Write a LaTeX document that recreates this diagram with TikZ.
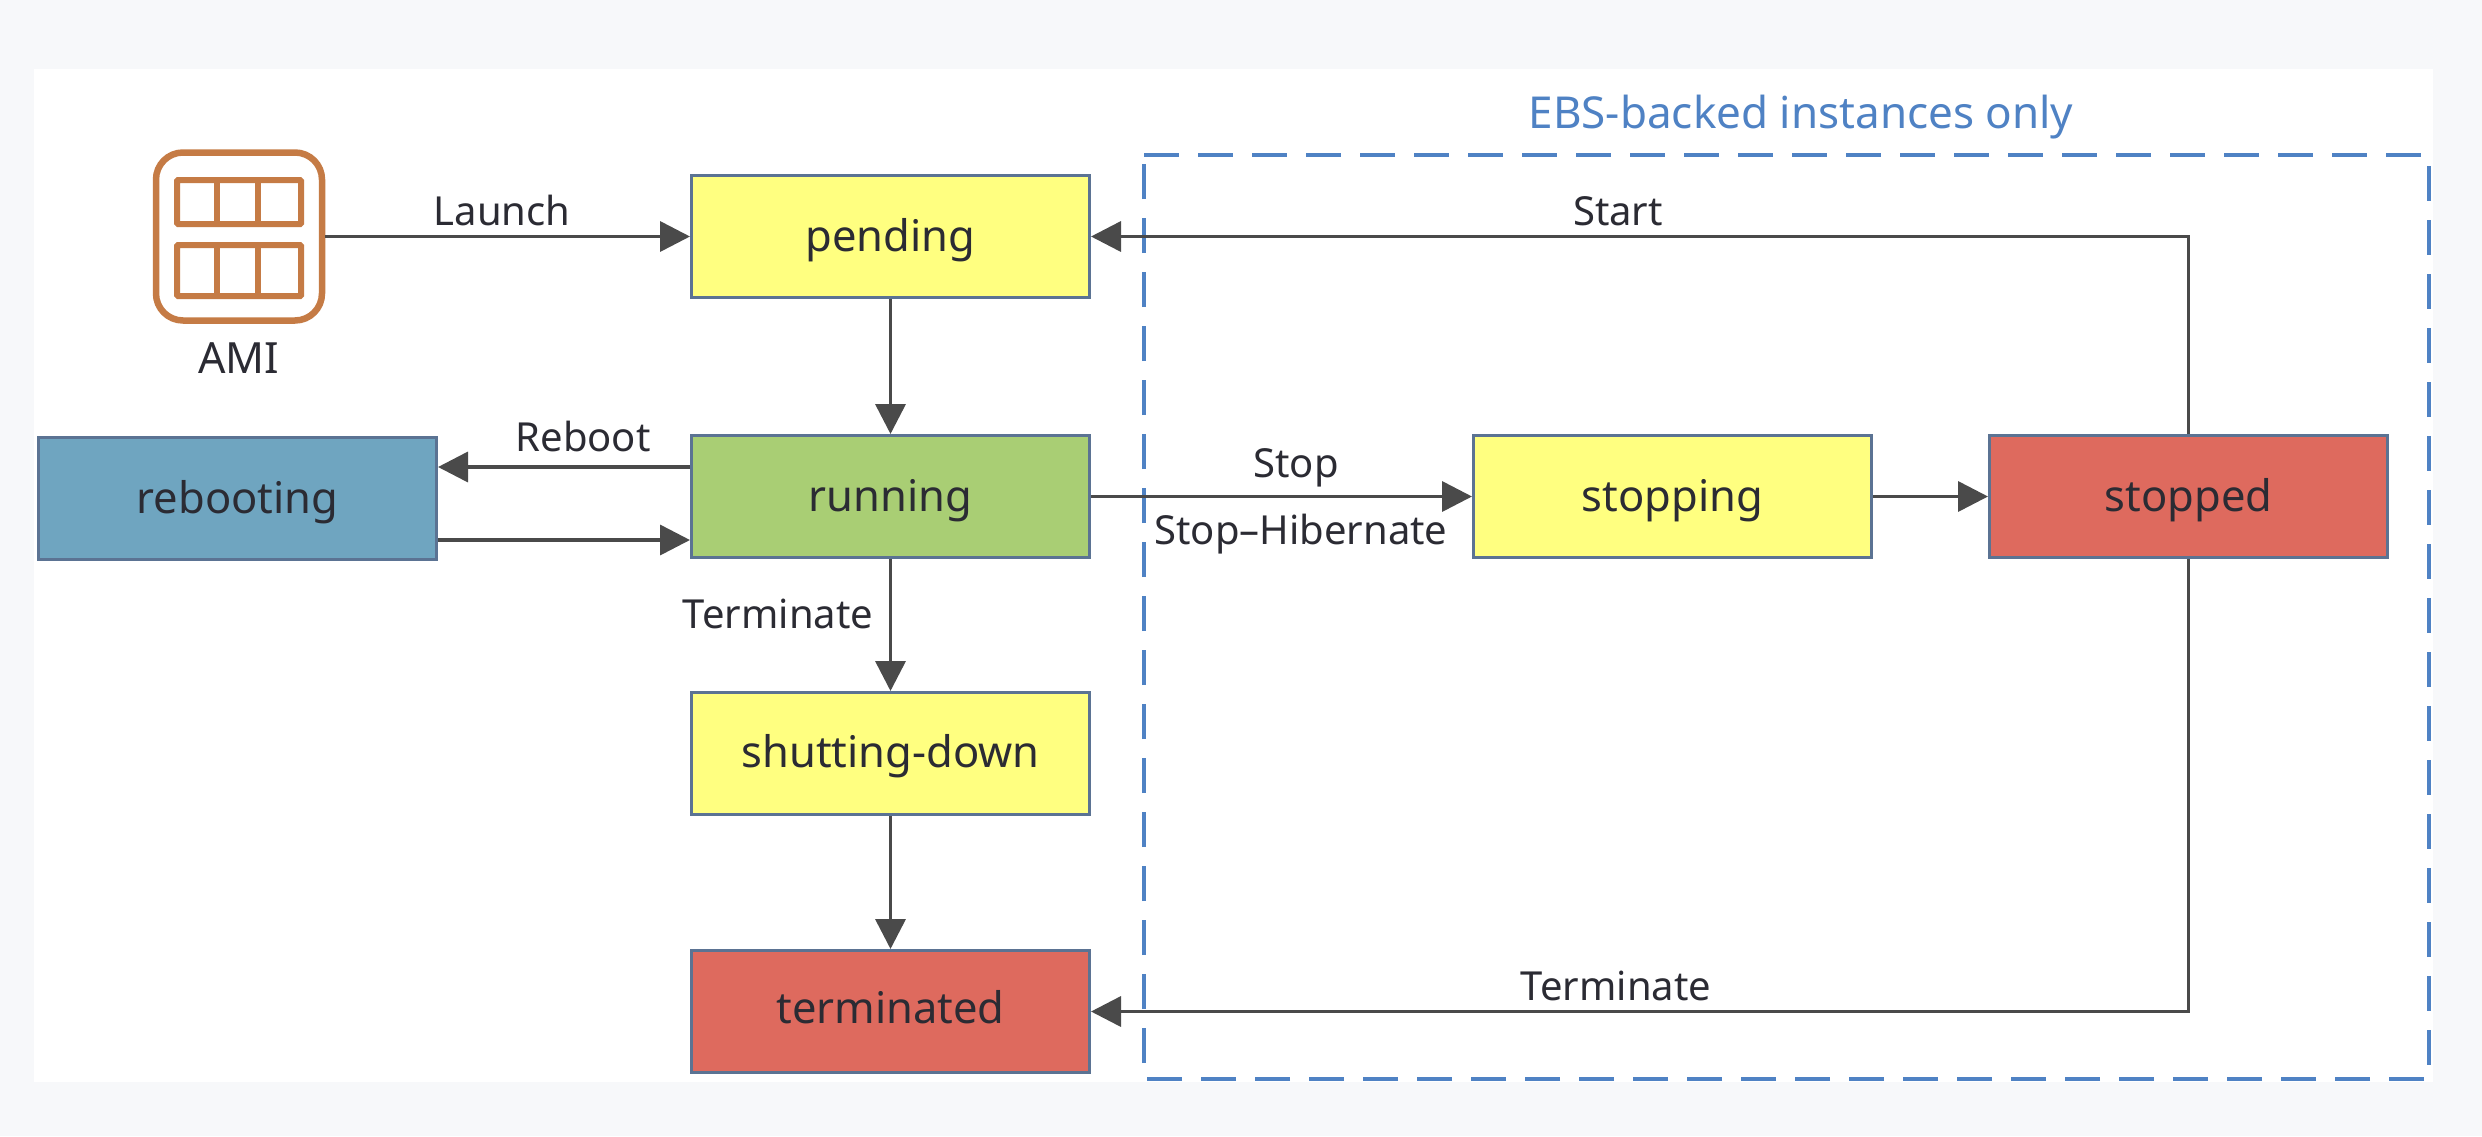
\documentclass[tikz,border=0pt]{standalone}
\usepackage{fontspec}
\setmainfont{Noto Sans}
\usetikzlibrary{arrows.meta,calc}
\definecolor{pagebg}{HTML}{F7F8FA}
\definecolor{edgeblue}{HTML}{5B7393}
\definecolor{stateyellow}{HTML}{FFFF80}
\definecolor{stategreen}{HTML}{A9CE74}
\definecolor{stateblue}{HTML}{6FA5C0}
\definecolor{statered}{HTML}{DE6A5E}
\definecolor{linkgrey}{HTML}{4A4A4A}
\definecolor{dashblue}{HTML}{4F82C4}
\definecolor{amibrown}{HTML}{C57B45}
\definecolor{inktext}{HTML}{2B2B33}
\newcommand{\lowtext}[2]{\raisebox{-#1pt}[0pt][0pt]{#2}}
\tikzset{
  x=1pt,y=-1pt,
  statebox/.style={draw=edgeblue,line width=3pt,minimum width=398pt,minimum height=122pt,inner sep=0pt,
    text=inktext,font=\fontsize{43.5}{52}\selectfont},
  link/.style={draw=linkgrey,line width=3.6pt,-{Triangle[length=30pt,width=30pt]}},
  linklabel/.style={inner sep=0pt,text=inktext,font=\fontsize{40}{48}\selectfont},
  amiline/.style={draw=amibrown,line width=6pt},
}
\begin{document}
\begin{tikzpicture}
\fill[pagebg] (0,0) rectangle (2482,1136);
\useasboundingbox (0,0) rectangle (2482,1136);
\fill[white] (34,69) rectangle (2433,1082);
% dashed region
\draw[dashblue,line width=4.4pt,dash pattern=on 35pt off 19pt] (1144,155) -- (2429,155) -- (2429,1079) -- (1144,1079) -- cycle;
\node[inner sep=0pt,text=dashblue,font=\fontsize{44}{52}\selectfont] (ebs) at (1801,117) {EBS-backed instances only};
% states
\node[statebox,fill=stateyellow] (pending) at (890.5,236.5) {\lowtext{15}{pending}};
\node[statebox,fill=stategreen] (running) at (890.5,496.5) {\lowtext{15}{running}};
\node[statebox,fill=stateblue] (rebooting) at (237.5,498) {\lowtext{15}{rebooting}};
\node[statebox,fill=stateyellow] (shutting) at (890.5,753.5) {\lowtext{14}{shutting-down}};
\node[statebox,fill=statered] (terminated) at (890.5,1011.5) {\lowtext{12}{terminated}};
\node[statebox,fill=stateyellow] (stopping) at (1672.5,496.5) {\lowtext{15}{stopping}};
\node[statebox,fill=statered] (stopped) at (2188.5,496.5) {\lowtext{15}{stopped}};
% AMI icon
\node[draw=amibrown,line width=6.5pt,rounded corners=27pt,minimum width=166pt,minimum height=168pt,inner sep=0pt] (ami) at (239,236.5) {};
\draw[amiline,rounded corners=1pt] (177,180) rectangle (301,224);
\draw[amiline] (217,180) -- (217,224) (258,180) -- (258,224);
\draw[amiline,rounded corners=1pt] (177,245) rectangle (301,296);
\draw[amiline] (217,245) -- (217,296) (258,245) -- (258,296);
\node[linklabel,font=\fontsize{43}{50}\selectfont] (amilabel) at (239,358) {AMI};
% coordinates for offset links
\coordinate (rbtop) at (0,467);
\coordinate (rbbot) at (0,540);
\coordinate (startc) at (stopped.north |- pending.east);
\coordinate (termc) at (stopped.south |- terminated.east);
% connectors
\draw[link] (ami.east) -- (pending.west);
\draw[link] (pending.south) -- (running.north);
\draw[link] (running.west |- rbtop) -- (rebooting.east |- rbtop);
\draw[link] (rebooting.east |- rbbot) -- (running.west |- rbbot);
\draw[link] (running.south) -- (shutting.north);
\draw[link] (shutting.south) -- (terminated.north);
\draw[link] (running.east) -- (stopping.west);
\draw[link] (stopping.east) -- (stopped.west);
\draw[link] (stopped.north) -- (startc) -- (pending.east);
\draw[link] (stopped.south) -- (termc) -- (terminated.east);
% labels
\node[linklabel] (l1) at (502,210) {Launch};
\node[linklabel] (l2) at (1618,211) {Start};
\node[linklabel] (l3) at (583,436) {Reboot};
\node[linklabel] (l4) at (1296,468) {Stop};
\node[linklabel] (l5) at (1301,534) {Stop–Hibernate};
\node[linklabel] (l6) at (778,614) {Terminate};
\node[linklabel] (l7) at (1616,986) {Terminate};
\end{tikzpicture}
\end{document}
